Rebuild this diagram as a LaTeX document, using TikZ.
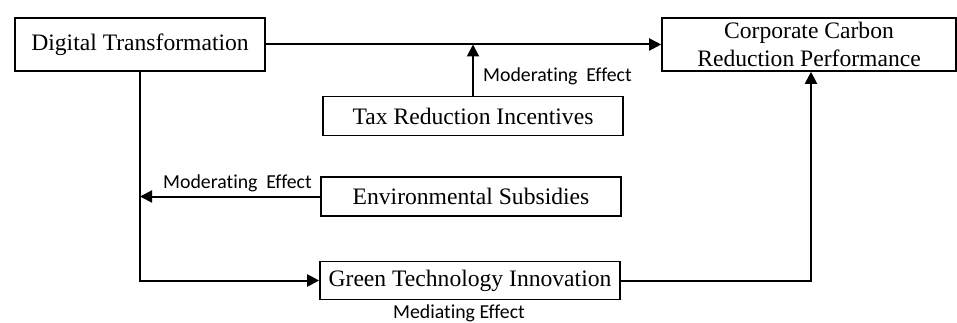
\documentclass[tikz,border=0pt]{standalone}
\usepackage{fontspec}
\setmainfont{Liberation Serif}
\newfontfamily\lblfont[Ligatures=NoCommon]{Carlito}
\usetikzlibrary{arrows.meta}
\begin{document}
\begin{tikzpicture}[x=1pt,y=-1pt,
  box/.style={draw,line width=1.6pt,inner sep=0pt,align=center,font=\fontsize{23.6}{28}\selectfont},
  arr/.style={line width=2pt,-{Triangle[length=12pt,width=12pt]}},
  lbl/.style={font=\lblfont\fontsize{19.8}{22}\selectfont,inner sep=0pt}]
\useasboundingbox (0,0) rectangle (957,323);
\node[box,minimum width=250pt,minimum height=53pt] (dt) at (140,44.5) {Digital Transformation};
\node[box,minimum width=294pt,minimum height=53pt] (ccrp) at (809,44.5) {Corporate Carbon\\Reduction Performance};
\node[box,minimum width=300pt,minimum height=39pt] (tax) at (473,116) {Tax Reduction Incentives};
\node[box,minimum width=300pt,minimum height=39pt] (es) at (471,196.5) {Environmental Subsidies};
\node[box,minimum width=300pt,minimum height=38pt] (gti) at (470,280.5) {Green Technology Innovation};
\node[lbl,anchor=west] (l1) at (483,76) {Moderating\hspace{0.45em}Effect};
\node[lbl,anchor=west] (l2) at (163,183) {Moderating\hspace{0.45em}Effect};
\node[lbl] (l3) at (459,313) {Mediating Effect};
\coordinate (m1) at (473,44.5);
\draw[arr] (dt.east) -- (ccrp.west);
\draw[arr] (tax.north) -- (m1);
\draw[arr] (es.west) -- (es.west -| dt.south);
\draw[arr] (dt.south) |- (gti.west);
\draw[arr] (gti.east) -| ([xshift=2pt]ccrp.south);
\end{tikzpicture}
\end{document}
